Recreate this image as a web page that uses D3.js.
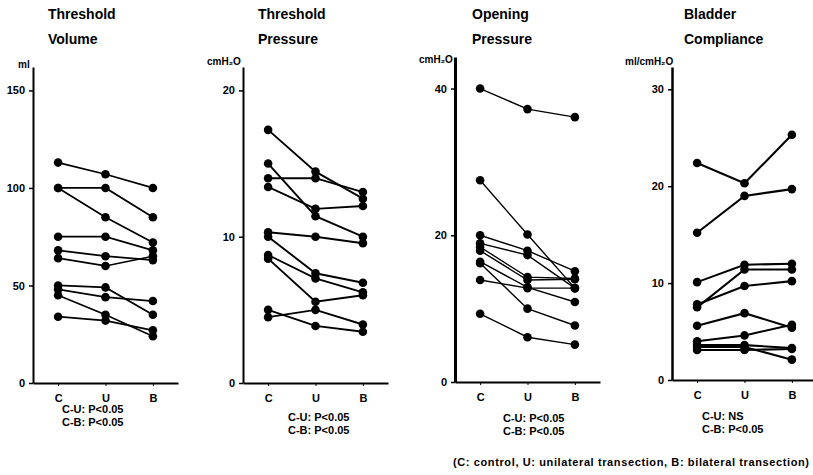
<!DOCTYPE html>
<html>
<head>
<meta charset="utf-8">
<script src="https://cdn.jsdelivr.net/npm/d3@7"></script>
<style>
  body { margin: 0; background: #fff; }
  svg { display: block; font-family: Arial, "Liberation Sans", Helvetica, sans-serif; }
  text { font-weight: bold; fill: #000; }
</style>
</head>
<body>
<div id="chart"></div>
<script>
const categories = ['C', 'U', 'B'];

// one row per animal: [C, U, B]
const thresholdVolume = [
    [113, 107, 100],
    [100, 100, 85],
    [100, 85, 72],
    [75, 75, 68],
    [68, 65, 63],
    [64, 60, 65],
    [50, 49, 35],
    [48, 44, 42],
    [45, 35, 24],
    [34, 32, 27]
];

const thresholdPressure = [
    [17.3, 14.45, 12.6],
    [14.0, 14.0, 13.05],
    [15.0, 11.4, 10.0],
    [13.4, 11.9, 12.1],
    [10.3, 10.0, 9.55],
    [10.0, 7.5, 6.85],
    [8.75, 7.15, 6.2],
    [8.5, 5.55, 6.0],
    [5.0, 3.9, 3.5],
    [4.5, 5.0, 4.0]
];

const openingPressure = [
    [40, 37.2, 36.1],
    [27.5, 20.1, 12.8],
    [20, 17.9, 15.1],
    [18.9, 17.3, 12.8],
    [18.4, 14.3, 14.1],
    [17.9, 13.9, 14.0],
    [16.4, 12.9, 10.9],
    [16.2, 10.0, 7.7],
    [13.9, 12.8, 12.8],
    [9.3, 6.1, 5.1]
];

const bladderCompliance = [
    [22.4, 20.3, 25.3],
    [15.2, 19.0, 19.7],
    [10.1, 11.9, 12.0],
    [7.5, 11.4, 11.4],
    [7.8, 9.7, 10.2],
    [5.6, 6.9, 5.4],
    [4.0, 4.6, 5.7],
    [3.6, 3.6, 3.3],
    [3.4, 3.4, 2.1],
    [3.1, 3.1, 3.2]
];

const titles = [
    ['Threshold', 'Volume'],
    ['Threshold', 'Pressure'],
    ['Opening', 'Pressure'],
    ['Bladder', 'Compliance']
];
const units = ['ml', 'cmH₂O', 'cmH₂O', 'ml/cmH₂O'];
const yTicks = [[0, 50, 100, 150], [0, 10, 20], [0, 20, 40], [0, 10, 20, 30]];
const stats = [
    ['C-U: P<0.05', 'C-B: P<0.05'],
    ['C-U: P<0.05', 'C-B: P<0.05'],
    ['C-U: P<0.05', 'C-B: P<0.05'],
    ['C-U: NS', 'C-B: P<0.05']
];
const footnote = '(C: control, U: unilateral transection, B: bilateral transection)';

const series = [thresholdVolume, thresholdPressure, openingPressure, bladderCompliance];

// layout of each panel
const layout = [
    { axisX: 33, y0: 383, yTop: 67, vTop: 162, titleX: 48, unitX: 18, unitY: 68, statX: 62, statY: 413, axisW: 2, lineW: 1.7 },
    { axisX: 243, y0: 383, yTop: 67, vTop: 21.6, titleX: 258, unitX: 207, unitY: 65, statX: 288, statY: 421, axisW: 2, lineW: 1.9 },
    { axisX: 455, y0: 382, yTop: 57, vTop: 44.3, titleX: 472, unitX: 419, unitY: 63, statX: 503, statY: 422, axisW: 3, lineW: 1.4 },
    { axisX: 672, y0: 380, yTop: 67, vTop: 32.3, titleX: 684, unitX: 625, unitY: 65, statX: 702, statY: 420, axisW: 2.5, lineW: 2.1 }
];

const width = 813;
const height = 475;

const svg = d3.select('#chart')
    .append('svg')
    .attr('width', width)
    .attr('height', height);

series.forEach((rows, i) => {
    const L = layout[i];
    const g = svg.append('g');

    const x = d3.scalePoint()
        .domain(categories)
        .range([L.axisX, L.axisX + 145])
        .padding(0.53);

    const y = d3.scaleLinear()
        .domain([0, L.vTop])
        .range([L.y0, L.yTop]);

    // y axis
    const yAxis = g.append('g')
        .attr('transform', `translate(${L.axisX},0)`)
        .call(d3.axisLeft(y).tickValues(yTicks[i]).tickSize(4).tickSizeOuter(0).tickPadding(4));
    yAxis.select('.domain').attr('stroke-width', L.axisW);
    yAxis.selectAll('.tick line').attr('stroke-width', 1.5);
    yAxis.selectAll('.tick text')
        .attr('font-size', 11)
        .attr('font-family', 'Arial, "Liberation Sans", sans-serif')
        .attr('font-weight', 'bold');

    // x axis
    const xAxis = g.append('g')
        .attr('transform', `translate(0,${L.y0})`)
        .call(d3.axisBottom(x).tickSize(3).tickSizeOuter(0).tickPadding(8));
    xAxis.select('.domain').attr('stroke-width', 2);
    xAxis.selectAll('.tick line').attr('stroke-width', 1);
    xAxis.selectAll('.tick text')
        .attr('font-size', 11)
        .attr('font-family', 'Arial, "Liberation Sans", sans-serif')
        .attr('font-weight', 'bold');

    // lines per animal
    const line = d3.line()
        .x((d, k) => x(categories[k]))
        .y(d => y(d));

    g.append('g')
        .selectAll('path')
        .data(rows)
        .enter().append('path')
        .attr('d', line)
        .attr('fill', 'none')
        .attr('stroke', '#000')
        .attr('stroke-width', L.lineW);

    const pts = [];
    rows.forEach(r => r.forEach((v, k) => pts.push({ c: categories[k], v: v })));

    g.append('g')
        .selectAll('circle')
        .data(pts)
        .enter().append('circle')
        .attr('cx', d => x(d.c))
        .attr('cy', d => y(d.v))
        .attr('r', 4.3)
        .attr('fill', '#000');

    // titles
    g.append('text')
        .attr('x', L.titleX)
        .attr('y', 19)
        .attr('font-size', 14)
        .text(titles[i][0]);
    g.append('text')
        .attr('x', L.titleX)
        .attr('y', 44)
        .attr('font-size', 14)
        .text(titles[i][1]);

    // unit label
    g.append('text')
        .attr('x', L.unitX)
        .attr('y', L.unitY)
        .attr('font-size', 10)
        .text(units[i]);

    // significance
    stats[i].forEach((s, k) => {
        g.append('text')
            .attr('x', L.statX)
            .attr('y', L.statY + k * 13)
            .attr('font-size', 11)
            .text(s);
    });
});

svg.append('text')
    .attr('x', 453)
    .attr('y', 466)
    .attr('font-size', 11)
    .attr('textLength', 356)
    .attr('lengthAdjust', 'spacing')
    .text(footnote);
</script>
</body>
</html>
